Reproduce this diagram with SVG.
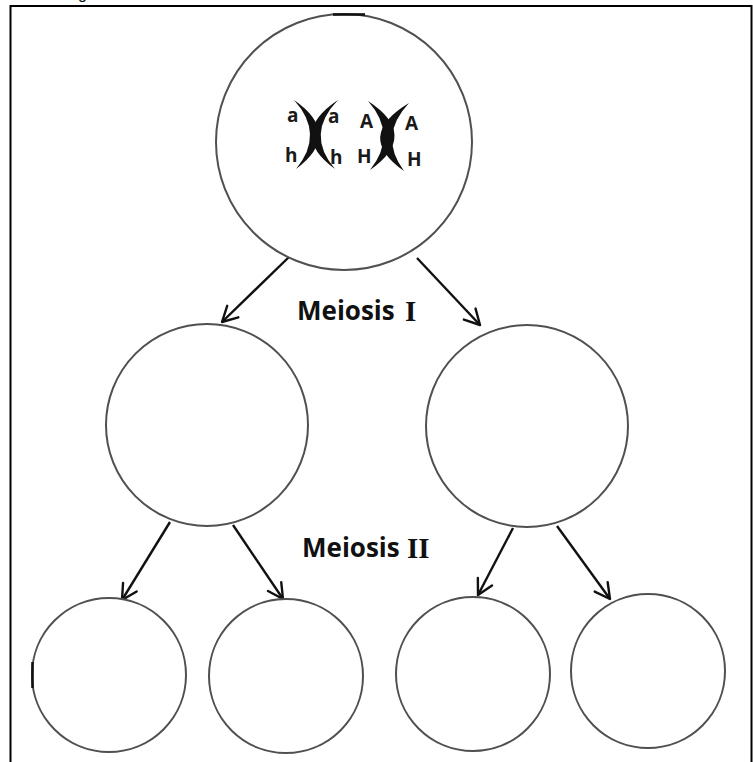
<svg xmlns="http://www.w3.org/2000/svg" width="753" height="762" viewBox="0 0 753 762">
  <style>
    .cell { fill: #ffffff; stroke: #505050; stroke-width: 2; }
    .mark { stroke: #111111; stroke-width: 2.6; fill: none; }
    .arrow { stroke: #111111; stroke-width: 2.4; fill: none; marker-end: url(#head); }
    .allele { font-family: "Open Sans", "Liberation Sans", sans-serif; font-weight: bold; font-size: 19px; fill: #1a1a1a; }
    .stage { font-family: "Open Sans", "Liberation Sans", sans-serif; font-weight: bold; font-size: 26px; fill: #111111; }
    .numeral { font-family: "Liberation Serif", serif; font-weight: bold; font-size: 29px; fill: #111111; }
    .chromatid { fill: #111111; }
  </style>
  <defs>
    <marker id="head" viewBox="0 0 20 20" refX="18" refY="10" markerWidth="20" markerHeight="20" markerUnits="userSpaceOnUse" orient="auto">
      <path d="M3,2 L18,10 L3,18" fill="none" stroke="#111111" stroke-width="2.4" stroke-linecap="round" stroke-linejoin="round"/>
    </marker>
  </defs>

  <rect width="753" height="762" fill="#ffffff"/>

  <!-- clipped heading fragment above the frame -->
  <text x="78" y="-1" font-family="Liberation Sans, sans-serif" font-size="16" fill="#111111">g</text>

  <!-- outer frame -->
  <path d="M10.5,762 L10.5,6 L751.5,6 L751.5,762" fill="none" stroke="#000000" stroke-width="2"/>

  <!-- connectors -->
  <g id="connectors">
    <line class="arrow" x1="289" y1="257" x2="222" y2="322"/>
    <line class="arrow" x1="417" y1="258" x2="480" y2="325"/>
    <line class="arrow" x1="170" y1="522" x2="122" y2="600"/>
    <line class="arrow" x1="233" y1="525" x2="283" y2="599"/>
    <line class="arrow" x1="513" y1="528" x2="478" y2="595"/>
    <line class="arrow" x1="557" y1="526" x2="610" y2="599"/>
  </g>

  <!-- parent cell with two homologous pairs -->
  <g id="parent">
    <circle class="cell" cx="344" cy="142" r="128"/>
    <line class="mark" x1="333" y1="14.5" x2="365" y2="14.5"/>
    <g id="pair-ah">
      <path class="chromatid" d="M294,100 Q343,134 296,169 Q325,134 294,100 Z"/>
      <path class="chromatid" d="M338,100 Q287,134 335,169 Q305,134 338,100 Z"/>
      <text class="allele" x="287" y="122">a</text>
      <text class="allele" x="285" y="162">h</text>
      <text class="allele" x="328" y="123">a</text>
      <text class="allele" x="330" y="164">h</text>
    </g>
    <g id="pair-AH">
      <path class="chromatid" d="M368,101 Q420,135 370,170 Q398,135 368,101 Z"/>
      <path class="chromatid" d="M409,103 Q354,136 404,171 Q378,136 409,103 Z"/>
      <text class="allele" x="360" y="128">A</text>
      <text class="allele" x="357" y="163">H</text>
      <text class="allele" x="405" y="130">A</text>
      <text class="allele" x="407" y="166">H</text>
    </g>
  </g>

  <!-- stage labels -->
  <g id="label-meiosis-1">
    <text class="stage" x="297" y="320">Meiosis</text>
    <text class="numeral" x="405" y="321">I</text>
  </g>
  <g id="label-meiosis-2">
    <text class="stage" x="302" y="557">Meiosis</text>
    <text class="numeral" x="407" y="558">II</text>
  </g>

  <!-- daughter cells after meiosis I -->
  <g id="daughter-left">
    <circle class="cell" cx="207" cy="425" r="101"/>
  </g>
  <g id="daughter-right">
    <circle class="cell" cx="527" cy="426" r="101"/>
  </g>

  <!-- gametes after meiosis II -->
  <g id="gamete-1">
    <circle class="cell" cx="109" cy="675" r="77"/>
    <line class="mark" x1="32.5" y1="662" x2="32.5" y2="688"/>
  </g>
  <g id="gamete-2">
    <circle class="cell" cx="286" cy="676" r="77"/>
  </g>
  <g id="gamete-3">
    <circle class="cell" cx="473" cy="674" r="77"/>
  </g>
  <g id="gamete-4">
    <circle class="cell" cx="648" cy="671" r="77"/>
  </g>
</svg>
